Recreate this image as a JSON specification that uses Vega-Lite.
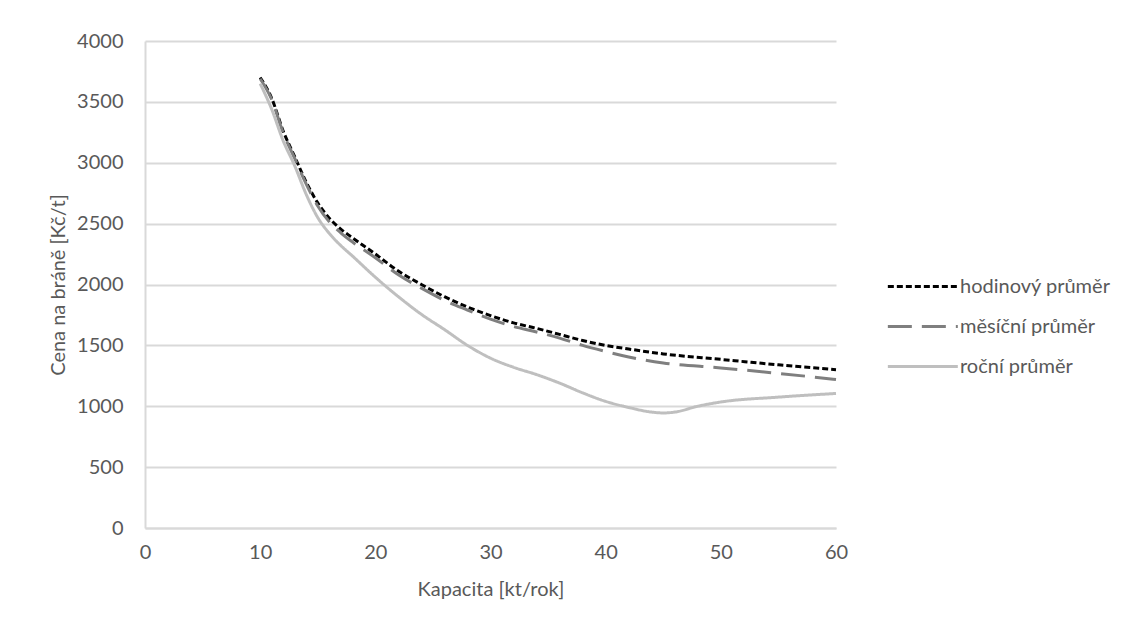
{
  "$schema": "https://vega.github.io/schema/vega-lite/v6.json",
  "autosize": {"type": "none"},
  "padding": {"left": 145, "top": 41, "right": 293, "bottom": 101},
  "width": 691,
  "height": 487,
  "background": "white",
  "config": {
    "font": "Lato",
    "view": {"stroke": null},
    "axis": {"labelFont": "Lato", "titleFont": "Lato", "labelColor": "#595959", "titleColor": "#595959", "labelFontSize": 20, "titleFontSize": 20, "titleFontWeight": "normal", "gridColor": "#d9d9d9", "gridWidth": 2, "domainColor": "#d9d9d9", "domainWidth": 2, "ticks": false, "format": "d", "labelFlush": false},
    "legend": {"labelFont": "Lato", "labelFontSize": 20, "labelColor": "#595959", "symbolStrokeWidth": 3, "symbolType": "M-1,0H5", "symbolSize": 544, "rowPadding": 16, "labelOffset": 47}
  },
  "data": {"values": [
    {"k": 10, "v": 3700, "s": "hodinový průměr"},
    {"k": 11, "v": 3530, "s": "hodinový průměr"},
    {"k": 12, "v": 3260, "s": "hodinový průměr"},
    {"k": 13, "v": 3050, "s": "hodinový průměr"},
    {"k": 14, "v": 2840, "s": "hodinový průměr"},
    {"k": 15, "v": 2670, "s": "hodinový průměr"},
    {"k": 16, "v": 2545, "s": "hodinový průměr"},
    {"k": 17, "v": 2455, "s": "hodinový průměr"},
    {"k": 18, "v": 2385, "s": "hodinový průměr"},
    {"k": 20, "v": 2250, "s": "hodinový průměr"},
    {"k": 22, "v": 2110, "s": "hodinový průměr"},
    {"k": 24, "v": 2000, "s": "hodinový průměr"},
    {"k": 26, "v": 1900, "s": "hodinový průměr"},
    {"k": 28, "v": 1815, "s": "hodinový průměr"},
    {"k": 30, "v": 1745, "s": "hodinový průměr"},
    {"k": 32, "v": 1685, "s": "hodinový průměr"},
    {"k": 34, "v": 1640, "s": "hodinový průměr"},
    {"k": 36, "v": 1590, "s": "hodinový průměr"},
    {"k": 38, "v": 1540, "s": "hodinový průměr"},
    {"k": 40, "v": 1500, "s": "hodinový průměr"},
    {"k": 42, "v": 1470, "s": "hodinový průměr"},
    {"k": 45, "v": 1430, "s": "hodinový průměr"},
    {"k": 50, "v": 1385, "s": "hodinový průměr"},
    {"k": 55, "v": 1340, "s": "hodinový průměr"},
    {"k": 60, "v": 1300, "s": "hodinový průměr"},
    {"k": 10, "v": 3690, "s": "měsíční průměr"},
    {"k": 11, "v": 3520, "s": "měsíční průměr"},
    {"k": 12, "v": 3245, "s": "měsíční průměr"},
    {"k": 13, "v": 3035, "s": "měsíční průměr"},
    {"k": 14, "v": 2825, "s": "měsíční průměr"},
    {"k": 15, "v": 2645, "s": "měsíční průměr"},
    {"k": 16, "v": 2515, "s": "měsíční průměr"},
    {"k": 17, "v": 2425, "s": "měsíční průměr"},
    {"k": 18, "v": 2350, "s": "měsíční průměr"},
    {"k": 20, "v": 2220, "s": "měsíční průměr"},
    {"k": 22, "v": 2080, "s": "měsíční průměr"},
    {"k": 24, "v": 1970, "s": "měsíční průměr"},
    {"k": 26, "v": 1870, "s": "měsíční průměr"},
    {"k": 28, "v": 1790, "s": "měsíční průměr"},
    {"k": 30, "v": 1715, "s": "měsíční průměr"},
    {"k": 32, "v": 1655, "s": "měsíční průměr"},
    {"k": 34, "v": 1610, "s": "měsíční průměr"},
    {"k": 36, "v": 1560, "s": "měsíční průměr"},
    {"k": 38, "v": 1500, "s": "měsíční průměr"},
    {"k": 40, "v": 1450, "s": "měsíční průměr"},
    {"k": 42, "v": 1405, "s": "měsíční průměr"},
    {"k": 45, "v": 1355, "s": "měsíční průměr"},
    {"k": 50, "v": 1315, "s": "měsíční průměr"},
    {"k": 55, "v": 1270, "s": "měsíční průměr"},
    {"k": 60, "v": 1220, "s": "měsíční průměr"},
    {"k": 10, "v": 3650, "s": "roční průměr"},
    {"k": 11, "v": 3440, "s": "roční průměr"},
    {"k": 12, "v": 3180, "s": "roční průměr"},
    {"k": 13, "v": 2975, "s": "roční průměr"},
    {"k": 14, "v": 2740, "s": "roční průměr"},
    {"k": 15, "v": 2550, "s": "roční průměr"},
    {"k": 16, "v": 2420, "s": "roční průměr"},
    {"k": 17, "v": 2320, "s": "roční průměr"},
    {"k": 18, "v": 2235, "s": "roční průměr"},
    {"k": 20, "v": 2060, "s": "roční průměr"},
    {"k": 22, "v": 1900, "s": "roční průměr"},
    {"k": 24, "v": 1755, "s": "roční průměr"},
    {"k": 26, "v": 1630, "s": "roční průměr"},
    {"k": 28, "v": 1500, "s": "roční průměr"},
    {"k": 30, "v": 1395, "s": "roční průměr"},
    {"k": 32, "v": 1320, "s": "roční průměr"},
    {"k": 34, "v": 1260, "s": "roční průměr"},
    {"k": 36, "v": 1190, "s": "roční průměr"},
    {"k": 38, "v": 1110, "s": "roční průměr"},
    {"k": 40, "v": 1040, "s": "roční průměr"},
    {"k": 42, "v": 990, "s": "roční průměr"},
    {"k": 44, "v": 952, "s": "roční průměr"},
    {"k": 45, "v": 945, "s": "roční průměr"},
    {"k": 46, "v": 952, "s": "roční průměr"},
    {"k": 48, "v": 1000, "s": "roční průměr"},
    {"k": 50, "v": 1035, "s": "roční průměr"},
    {"k": 55, "v": 1075, "s": "roční průměr"},
    {"k": 60, "v": 1105, "s": "roční průměr"}
  ]},
  "mark": {"type": "line", "strokeWidth": 3, "interpolate": "monotone"},
  "encoding": {
    "x": {"field": "k", "type": "quantitative", "scale": {"domain": [0, 60], "nice": false}, "axis": {"title": "Kapacita [kt/rok]", "values": [0, 10, 20, 30, 40, 50, 60], "grid": false, "labelPadding": 14, "titlePadding": 17}},
    "y": {"field": "v", "type": "quantitative", "scale": {"domain": [0, 4000], "nice": false}, "axis": {"title": "Cena na bráně [Kč/t]", "values": [0, 500, 1000, 1500, 2000, 2500, 3000, 3500, 4000], "labelPadding": 22, "titlePadding": 8}},
    "color": {"field": "s", "type": "nominal", "scale": {"domain": ["hodinový průměr", "měsíční průměr", "roční průměr"], "range": ["#000000", "#7f7f7f", "#bfbfbf"]}, "legend": {"title": null, "orient": "none", "legendX": 741, "legendY": 232}},
    "strokeDash": {"field": "s", "type": "nominal", "scale": {"domain": ["hodinový průměr", "měsíční průměr", "roční průměr"], "range": [[6, 3], [24, 10], [1, 0]]}, "legend": {"title": null, "orient": "none", "legendX": 741, "legendY": 232}}
  }
}
